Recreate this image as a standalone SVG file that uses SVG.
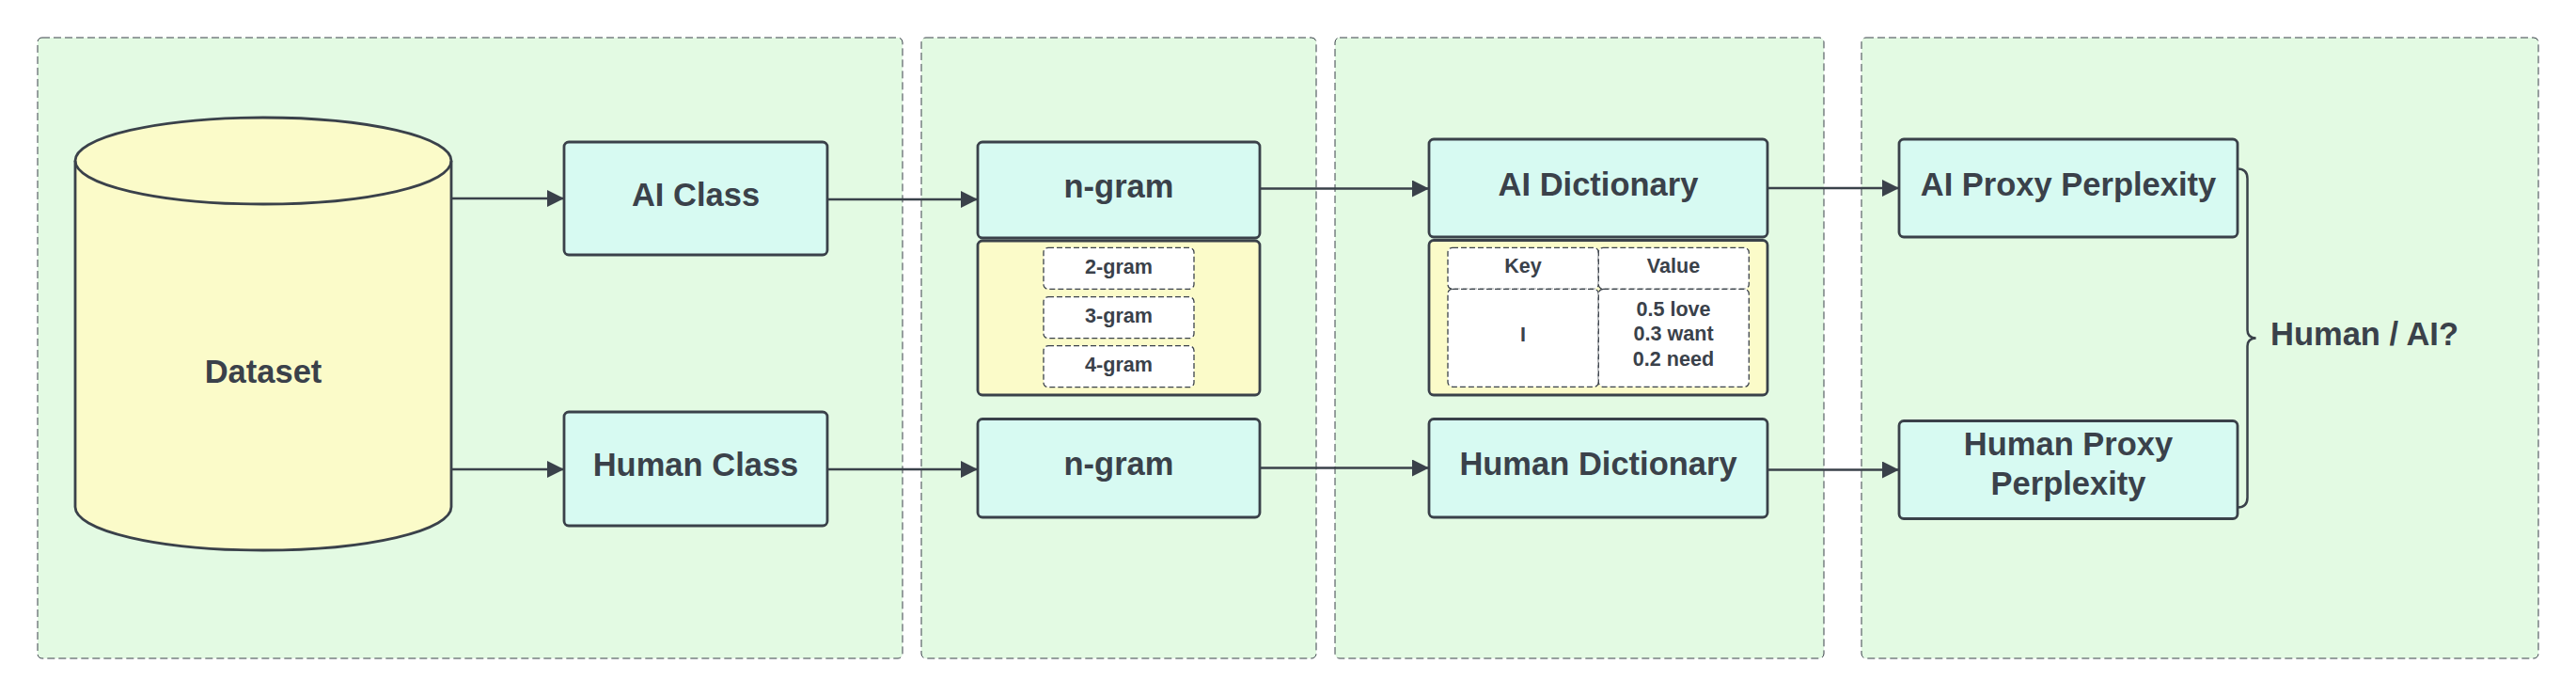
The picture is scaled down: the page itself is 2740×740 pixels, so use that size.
<svg xmlns="http://www.w3.org/2000/svg" width="2740" height="740" viewBox="0 0 2740 740">
<style>
.container{fill:#e3fae3;stroke:#3a414a;stroke-width:1;stroke-dasharray:8 4}
.node{fill:#d7faf2;stroke:#3a414a;stroke-width:2.8}
.yel{fill:#fbfbc9;stroke:#3a414a;stroke-width:2.8}
.cell{fill:#ffffff;stroke:#3a414a;stroke-width:1.3;stroke-dasharray:6 3}
.lbl{font-family:"Liberation Sans",Arial,sans-serif;font-weight:bold;font-size:34.5px;fill:#3a414a;text-anchor:middle}
.sm{font-family:"Liberation Sans",Arial,sans-serif;font-weight:bold;font-size:21.6px;fill:#3a414a;text-anchor:middle}
.conn{fill:none;stroke:#3a414a;stroke-width:2.5}
</style>
<defs>
<marker id="arrow" markerUnits="userSpaceOnUse" markerWidth="20" markerHeight="20" refX="18" refY="9" orient="auto">
<path d="M0,0 L18,9 L0,18 Z" fill="#3a414a"/>
</marker>
</defs>
<rect width="2740" height="740" fill="#ffffff"/>
<g id="containers">
<rect class="container" x="40" y="40" width="920" height="660" rx="5"/>
<rect class="container" x="980" y="40" width="420" height="660" rx="5"/>
<rect class="container" x="1420" y="40" width="520" height="660" rx="5"/>
<rect class="container" x="1980" y="40" width="720" height="660" rx="5"/>
</g>
<g id="dataset">
<path d="M80,171 A200,46 0 0,1 480,171 L480,539 A200,46 0 0,1 80,539 Z" fill="#fbfbc9" stroke="#3a414a" stroke-width="2.8"/>
<path d="M80,171 A200,46 0 0,0 480,171" fill="none" stroke="#3a414a" stroke-width="2.8"/>
<text class="lbl" x="280" y="407">Dataset</text>
</g>
<g id="ai-class">
<rect class="node" x="600" y="151" width="280" height="120" rx="5"/>
<text class="lbl" x="740" y="219">AI Class</text>
</g>
<g id="human-class">
<rect class="node" x="600" y="438" width="280" height="121" rx="5"/>
<text class="lbl" x="740" y="506">Human Class</text>
</g>
<g id="ai-ngram">
<rect class="node" x="1040" y="151" width="300" height="102" rx="5"/>
<text class="lbl" x="1190" y="210">n-gram</text>
<rect class="yel" x="1040" y="256" width="300" height="164" rx="5"/>
<rect class="cell" x="1110" y="263.3" width="160" height="44" rx="5"/>
<text class="sm" x="1190" y="290.7">2-gram</text>
<rect class="cell" x="1110" y="315.7" width="160" height="44" rx="5"/>
<text class="sm" x="1190" y="342.7">3-gram</text>
<rect class="cell" x="1110" y="367.7" width="160" height="44" rx="5"/>
<text class="sm" x="1190" y="394.7">4-gram</text>
</g>
<g id="human-ngram">
<rect class="node" x="1040" y="445.5" width="300" height="104.5" rx="5"/>
<text class="lbl" x="1190" y="505">n-gram</text>
</g>
<g id="ai-dictionary">
<rect class="node" x="1520" y="148" width="360" height="104" rx="5"/>
<text class="lbl" x="1700" y="207.6">AI Dictionary</text>
<rect class="yel" x="1520" y="255.5" width="360" height="164.5" rx="5"/>
<rect class="cell" x="1540" y="263.3" width="160.3" height="44" rx="5"/>
<rect class="cell" x="1700.3" y="263.3" width="160" height="44" rx="5"/>
<rect class="cell" x="1540" y="307.3" width="160.3" height="104" rx="5"/>
<rect class="cell" x="1700.3" y="307.3" width="160" height="104" rx="5"/>
<text class="sm" x="1620" y="290">Key</text>
<text class="sm" x="1780" y="290">Value</text>
<text class="sm" x="1620" y="362.7">I</text>
<text class="sm" x="1780" y="335.7">0.5 love</text>
<text class="sm" x="1780" y="362.3">0.3 want</text>
<text class="sm" x="1780" y="388.9">0.2 need</text>
</g>
<g id="human-dictionary">
<rect class="node" x="1520" y="445.5" width="360" height="104.5" rx="5"/>
<text class="lbl" x="1700" y="505">Human Dictionary</text>
</g>
<g id="ai-proxy">
<rect class="node" x="2020" y="148" width="360" height="104" rx="5"/>
<text class="lbl" x="2200" y="207.6">AI Proxy Perplexity</text>
</g>
<g id="human-proxy">
<rect class="node" x="2020" y="447.5" width="360" height="104" rx="5"/>
<text class="lbl" x="2200" y="484.3">Human Proxy</text>
<text class="lbl" x="2200" y="526">Perplexity</text>
</g>
<g id="result">
<path d="M2380,179.5 Q2390.5,179.5 2390.5,190 L2390.5,351 Q2390.5,359 2399.5,359.5 Q2390.5,360 2390.5,368 L2390.5,529 Q2390.5,539.5 2380,539.5" fill="none" stroke="#3a414a" stroke-width="2.5"/>
<text class="lbl" x="2415" y="367" style="text-anchor:start">Human / AI?</text>
</g>
<g id="connectors">
<path class="conn" d="M480,211 L600,211" marker-end="url(#arrow)"/>
<path class="conn" d="M480,499 L600,499" marker-end="url(#arrow)"/>
<path class="conn" d="M880,212 L1040,212" marker-end="url(#arrow)"/>
<path class="conn" d="M880,499 L1040,499" marker-end="url(#arrow)"/>
<path class="conn" d="M1340,200.5 L1520,200.5" marker-end="url(#arrow)"/>
<path class="conn" d="M1340,497.5 L1520,497.5" marker-end="url(#arrow)"/>
<path class="conn" d="M1880,200 L2020,200" marker-end="url(#arrow)"/>
<path class="conn" d="M1880,499.5 L2020,499.5" marker-end="url(#arrow)"/>
</g>
</svg>
